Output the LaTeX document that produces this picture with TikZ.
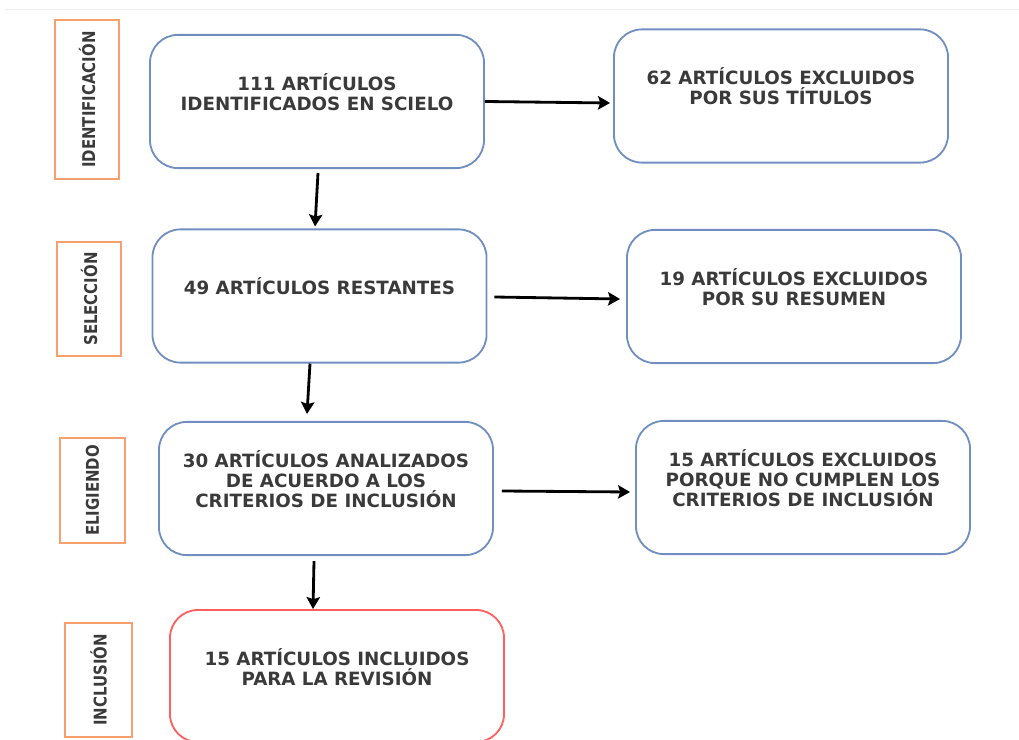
\documentclass[tikz,border=0pt]{standalone}
\usepackage{fontspec}
\setmainfont{DejaVu Sans}
\newfontfamily\tagfont[FakeStretch=0.85]{DejaVu Sans}
\usetikzlibrary{arrows.meta,calc,positioning}
\definecolor{boxblue}{RGB}{112,142,192}
\definecolor{boxred}{RGB}{255,95,95}
\definecolor{tagorange}{RGB}{245,160,110}
\definecolor{txtgray}{RGB}{58,58,58}
\begin{document}
\begin{tikzpicture}[x=0.025cm,y=-0.025cm,
  box/.style={draw=boxblue,line width=1.3pt,rounded corners=0.7cm,minimum width=8.35cm,minimum height=3.33cm,inner sep=0pt},
  txt/.style={font=\bfseries\fontsize{13}{14.2}\selectfont,text=txtgray,align=center,inner sep=0pt},
  tag/.style={draw=tagorange,line width=1.1pt,rotate=90,font=\tagfont\bfseries\fontsize{12.5}{14}\selectfont,text=txtgray,inner sep=0pt},
  arr/.style={line width=2pt,-{Stealth[length=8.5pt,width=9.5pt,inset=1.5pt]}}]
\useasboundingbox (0,0) rectangle (1019,740);
\pgfmathsetmacro{\off}{58}
%page edge
\draw[gray!12,line width=0.7pt] (5,9)--(1019,9);
%stages
\node[tag,minimum width=3.975cm,minimum height=1.6cm] (tident) at (87,99.5) {IDENTIFICACIÓN};
\node[tag,minimum width=2.85cm,minimum height=1.6cm] (tsel) at (89,299) {SELECCIÓN};
\node[tag,minimum width=2.625cm,minimum height=1.625cm] (telig) at (92.5,490.5) {ELIGIENDO};
\node[tag,minimum width=2.85cm,minimum height=1.675cm] (tincl) at (98.5,680) {INCLUSIÓN};
%left column
\node[box] (ident) at (317,101.5) {};
\node[box] (sel) at (319.5,296) {};
\node[box] (elig) at (326,488.5) {};
\node[box,draw=boxred,minimum height=3.3cm] (incl) at (337,676) {};
\node[txt] (identtxt) at ($(ident.north)+(0,\off)$) {111 ARTÍCULOS\\IDENTIFICADOS EN SCIELO};
\node[txt] (seltxt) at ($(sel.north)+(0,\off)$) {49 ARTÍCULOS RESTANTES};
\node[txt] (eligtxt) at ($(elig.north)+(0,\off)$) {30 ARTÍCULOS ANALIZADOS\\DE ACUERDO A LOS\\CRITERIOS DE INCLUSIÓN};
\node[txt] (incltxt) at ($(incl.north)+(0,\off)$) {15 ARTÍCULOS INCLUIDOS\\PARA LA REVISIÓN};
%right column
\node[box] (excla) at (781,96) {};
\node[box] (exclb) at (794,296.5) {};
\node[box] (exclc) at (803,487.5) {};
\node[txt] (exclatxt) at ($(excla.north)+(0,\off)$) {62 ARTÍCULOS EXCLUIDOS\\POR SUS TÍTULOS};
\node[txt] (exclbtxt) at ($(exclb.north)+(0,\off)$) {19 ARTÍCULOS EXCLUIDOS\\POR SU RESUMEN};
\node[txt] (exclctxt) at ($(exclc.north)+(0,\off)$) {15 ARTÍCULOS EXCLUIDOS\\PORQUE NO CUMPLEN LOS\\CRITERIOS DE INCLUSIÓN};
%arrows
\draw[arr] ($(ident.south)+(1,4)$)--($(sel.north)+(-4.5,-2)$);
\draw[arr] ($(sel.south)+(-9.5,0)$)--($(elig.north)+(-19,-7)$);
\draw[arr] ($(elig.south)+(-12,5)$)--($(incl.north)+(-24,0)$);
\draw[arr] (ident.east)--($(ident.east -| excla.west)+(-3,1.5)$);
\draw[arr] ($(sel.east)+(7,1)$)--($(sel.east -| exclb.west)+(-6,3)$);
\draw[arr] ($(elig.east)+(8,2.5)$)--($(elig.east -| exclc.west)+(-5,3.5)$);
\end{tikzpicture}
\end{document}
